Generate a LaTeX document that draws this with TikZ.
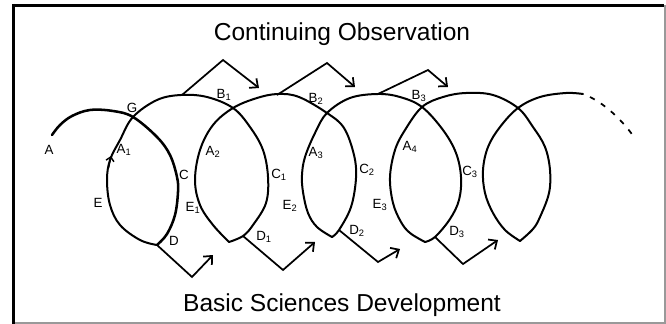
\documentclass[tikz,border=0pt]{standalone}
\usepackage{fontspec}
\setmainfont{Liberation Sans}
\usetikzlibrary{arrows.meta}
\begin{document}
\begin{tikzpicture}[x=0.75pt,y=-0.75pt,
  curvestyle/.style={line width=1.5pt, line join=round, line cap=round},
  flowarrow/.style={line width=1.3pt, line join=miter, -{Straight Barb[length=5pt,width=9pt]}},
  lbl/.style={font=\fontsize{10}{11}\selectfont, inner sep=0pt},
  heading/.style={font=\fontsize{18.4}{22}\selectfont, anchor=base, inner sep=0pt}]
\useasboundingbox (0,0) rectangle (666,324);
% frame
\draw[line width=2.6pt] (13.5,4) -- (13.5,324);
\draw[line width=1.8pt] (12,5.5) -- (664,5.5);
\draw[black!40, line width=0.8pt] (665,5) -- (665,324);
\draw[black!40, line width=1pt] (15,323) -- (666,323);
% titles
\node[heading] (obs) at (342,40.5) {Continuing Observation};
\node[heading] (bsd) at (342,311) {Basic Sciences Development};
% key points
\coordinate (P1) at (157,245);
\coordinate (P2) at (229,242);
\coordinate (P3) at (332,237);
\coordinate (P4) at (425,242);
\coordinate (P5) at (520,241);
% loops
\draw[curvestyle, line width=1.9pt] plot[smooth, tension=0.6] coordinates {(52,135) (60,125) (72,116) (90,110) (113,111) (133,117) (157,137) (170,155) (177,177) (178,192) (175,215) (167,234) (157,245)};
\draw[curvestyle] plot[smooth, tension=0.6] coordinates {(157,245) (140,240) (120,225) (110,205) (107,180) (110,160) (120,140) (133,117) (157,100) (181,95) (207,97) (233,108) (250,127) (263,150) (268,177) (266,203) (253,225) (243,236) (229,242)};
\draw[curvestyle] plot[smooth, tension=0.6] coordinates {(229,242) (213,225) (200,205) (195,180) (200,150) (213,125) (233,108) (257,98) (278,94) (299,97) (327,113) (344,128) (354,155) (356,178) (351,207) (339,230) (332,237)};
\draw[curvestyle] plot[smooth, tension=0.6] coordinates {(332,237) (317,227) (308,213) (303,192) (302,175) (305,157) (315,133) (327,113) (350,98) (378,94) (400,97) (422,107) (443,130) (456,153) (461,177) (459,200) (450,219) (435,237) (425,242)};
\draw[curvestyle] plot[smooth, tension=0.6] coordinates {(425,242) (410,233) (401,222) (393,203) (390,177) (395,150) (405,130) (422,107) (443,97) (466,93) (493,95) (518,108) (533,127) (545,147) (550,170) (549,193) (540,217) (533,229) (520,241)};
\draw[curvestyle] plot[smooth, tension=0.6] coordinates {(520,241) (505,230) (493,213) (485,193) (483,170) (488,147) (500,127) (518,108) (540,97) (566,93) (583,94)};
\draw[line width=1.3pt, dash pattern=on 4pt off 5.5pt] (590,97) .. controls (606,105) and (622,120) .. (634,137);
% small arrow on the first lens
\draw[line width=1.1pt, -{Straight Barb[length=3pt,width=6pt]}] (108.5,168) -- (111,156);
% top arrows
\coordinate (t1s) at (182,95);  \coordinate (t1m) at (223,60);  \coordinate (t1e) at (259,88);
\coordinate (t2s) at (277,95);  \coordinate (t2m) at (327,63);  \coordinate (t2e) at (355,87);
\coordinate (t3s) at (378,94);  \coordinate (t3m) at (428,70);  \coordinate (t3e) at (448,87);
\draw[flowarrow] (t1s) -- (t1m) -- (t1e);
\draw[flowarrow] (t2s) -- (t2m) -- (t2e);
\draw[flowarrow] (t3s) -- (t3m) -- (t3e);
% bottom arrows
\coordinate (b1s) at (157,245); \coordinate (b1m) at (192,277); \coordinate (b1e) at (213,255);
\coordinate (b2s) at (243,236); \coordinate (b2m) at (283,270); \coordinate (b2e) at (315,242);
\coordinate (b3s) at (339,230); \coordinate (b3m) at (378,262); \coordinate (b3e) at (400,249);
\coordinate (b4s) at (435,237); \coordinate (b4m) at (463,264); \coordinate (b4e) at (498,240);
\draw[flowarrow] (b1s) -- (b1m) -- (b1e);
\draw[flowarrow] (b2s) -- (b2m) -- (b2e);
\draw[flowarrow] (b3s) -- (b3m) -- (b3e);
\draw[flowarrow] (b4s) -- (b4m) -- (b4e);
% labels
\node[lbl] (lA) at (49,150) {A};
\node[lbl] (lG) at (132,108) {G};
\node[lbl] (lA1) at (124,150) {A\textsubscript{1}};
\node[lbl] (lC) at (184,175) {C};
\node[lbl] (lE) at (98,203) {E};
\node[lbl] (lD) at (174,241) {D};
\node[lbl] (lE1) at (193,208) {E\textsubscript{1}};
\node[lbl] (lA2) at (213,152) {A\textsubscript{2}};
\node[lbl] (lB1) at (224,95) {B\textsubscript{1}};
\node[lbl] (lC1) at (279,175) {C\textsubscript{1}};
\node[lbl] (lD1) at (264,237) {D\textsubscript{1}};
\node[lbl] (lE2) at (290,206) {E\textsubscript{2}};
\node[lbl] (lA3) at (316,153) {A\textsubscript{3}};
\node[lbl] (lB2) at (316,99) {B\textsubscript{2}};
\node[lbl] (lC2) at (367,170) {C\textsubscript{2}};
\node[lbl] (lD2) at (357,231) {D\textsubscript{2}};
\node[lbl] (lE3) at (380,205) {E\textsubscript{3}};
\node[lbl] (lA4) at (410,147) {A\textsubscript{4}};
\node[lbl] (lB3) at (419,96) {B\textsubscript{3}};
\node[lbl] (lC3) at (470,172) {C\textsubscript{3}};
\node[lbl] (lD3) at (457,232) {D\textsubscript{3}};
\end{tikzpicture}
\end{document}
